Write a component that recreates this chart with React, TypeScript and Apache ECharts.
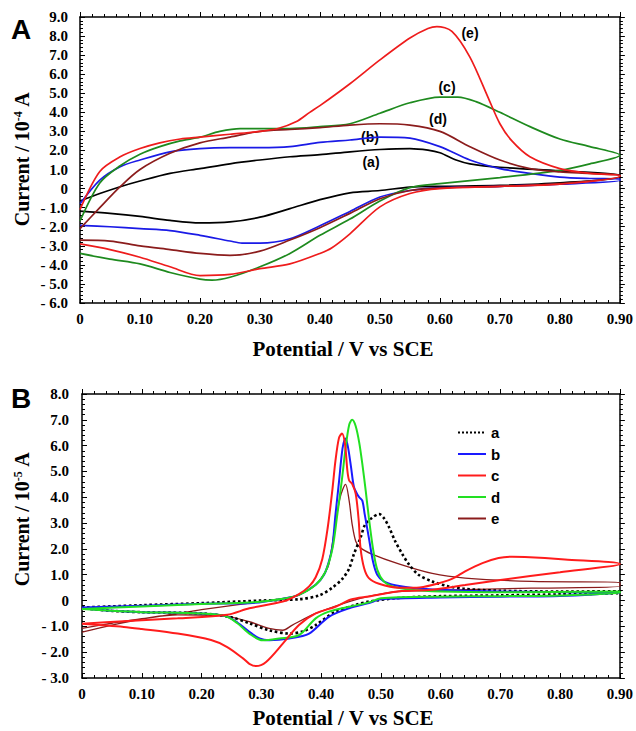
import React, { useEffect, useRef } from "react";
import * as echarts from "echarts";

// ---------- Panel A (current / 10^-4 A) : [potential V, current] ----------
const A_a_fwd = [[0,-0.65],[0.033,-0.26],[0.067,0.1],[0.1,0.4],[0.15,0.8],[0.2,1.05],[0.25,1.3],[0.3,1.5],[0.35,1.67],[0.4,1.78],[0.45,1.93],[0.5,2.05],[0.55,2.1],[0.58,2.02],[0.6,1.88],[0.627,1.5],[0.65,1.3],[0.7,1.12],[0.8,0.93],[0.9,0.7]];
const A_a_rev = [[0.9,0.6],[0.8,0.3],[0.7,0.17],[0.6,0.12],[0.55,0.08],[0.5,-0.1],[0.45,-0.22],[0.4,-0.58],[0.35,-1.05],[0.3,-1.5],[0.25,-1.75],[0.2,-1.8],[0.15,-1.67],[0.1,-1.46],[0.05,-1.3],[0,-1.18]];
const A_b_fwd = [[0,-0.8],[0.033,0.45],[0.067,1.15],[0.1,1.5],[0.15,1.93],[0.2,2.1],[0.25,2.15],[0.3,2.15],[0.35,2.2],[0.4,2.42],[0.45,2.55],[0.5,2.7],[0.55,2.65],[0.6,2.2],[0.65,1.5],[0.7,1.05],[0.75,0.8],[0.8,0.6],[0.85,0.53],[0.9,0.5]];
const A_b_rev = [[0.9,0.42],[0.8,0.23],[0.7,0.12],[0.6,0.05],[0.55,-0.1],[0.5,-0.44],[0.45,-1.2],[0.4,-1.95],[0.35,-2.63],[0.3,-2.86],[0.27,-2.86],[0.25,-2.75],[0.2,-2.45],[0.15,-2.2],[0.1,-2.1],[0.05,-2.0],[0,-1.93]];
const A_c_fwd = [[0,-1.7],[0.033,0.3],[0.067,1.2],[0.1,1.8],[0.133,2.2],[0.167,2.5],[0.2,2.7],[0.233,3.0],[0.267,3.15],[0.3,3.15],[0.35,3.15],[0.4,3.25],[0.45,3.4],[0.5,3.95],[0.55,4.5],[0.6,4.8],[0.63,4.8],[0.66,4.56],[0.7,4.0],[0.75,3.25],[0.8,2.6],[0.85,2.2],[0.9,1.75]];
const A_c_rev = [[0.9,1.75],[0.85,1.3],[0.8,0.96],[0.7,0.58],[0.6,0.26],[0.55,0.05],[0.5,-0.65],[0.45,-1.6],[0.4,-2.45],[0.35,-3.4],[0.3,-4.1],[0.25,-4.65],[0.22,-4.8],[0.2,-4.75],[0.15,-4.4],[0.1,-3.95],[0.05,-3.7],[0,-3.4]];
const A_d_fwd = [[0,-2.1],[0.033,-1.0],[0.067,0.1],[0.1,1.0],[0.15,1.85],[0.2,2.4],[0.25,2.7],[0.3,3.0],[0.35,3.1],[0.4,3.2],[0.45,3.33],[0.5,3.4],[0.55,3.33],[0.6,3.0],[0.65,2.2],[0.7,1.5],[0.75,1.05],[0.8,0.88],[0.85,0.8],[0.9,0.7]];
const A_d_rev = [[0.9,0.65],[0.8,0.26],[0.7,0.12],[0.6,0.03],[0.55,-0.1],[0.5,-0.53],[0.45,-1.3],[0.4,-2.05],[0.35,-2.7],[0.3,-3.28],[0.25,-3.5],[0.2,-3.4],[0.15,-3.2],[0.1,-3.0],[0.05,-2.75],[0,-2.7]];
const A_e_fwd = [[0,-1.1],[0.033,0.9],[0.067,1.67],[0.1,2.1],[0.133,2.4],[0.167,2.6],[0.2,2.7],[0.25,2.85],[0.3,3.0],[0.33,3.15],[0.36,3.5],[0.383,4.0],[0.4,4.35],[0.45,5.5],[0.5,6.75],[0.55,7.9],[0.58,8.4],[0.595,8.5],[0.62,8.25],[0.65,6.9],[0.68,4.8],[0.7,3.4],[0.72,2.5],[0.75,1.67],[0.8,1.05],[0.85,0.8],[0.9,0.7]];
const A_e_rev = [[0.9,0.65],[0.8,0.23],[0.7,0.12],[0.6,0.0],[0.55,-0.26],[0.5,-0.96],[0.45,-2.37],[0.42,-3.1],[0.4,-3.4],[0.35,-3.95],[0.3,-4.2],[0.25,-4.5],[0.2,-4.56],[0.15,-4.1],[0.1,-3.6],[0.05,-3.2],[0,-2.9]];

// ---------- Panel B (current / 10^-5 A) ----------
const B_a_fwd = [[0,-0.27],[0.1,-0.18],[0.2,-0.1],[0.3,0.0],[0.363,0.05],[0.397,0.2],[0.419,0.5],[0.436,0.85],[0.447,1.24],[0.455,1.8],[0.466,2.43],[0.474,2.96],[0.485,3.2],[0.497,3.35],[0.505,3.2],[0.514,2.83],[0.524,2.3],[0.536,1.8],[0.547,1.4],[0.563,1.0],[0.586,0.74],[0.613,0.55],[0.641,0.45],[0.7,0.38],[0.8,0.35],[0.9,0.36]];
const B_a_rev = [[0.9,0.3],[0.8,0.24],[0.7,0.2],[0.6,0.17],[0.53,0.1],[0.48,-0.04],[0.458,-0.17],[0.424,-0.43],[0.391,-0.95],[0.369,-1.2],[0.347,-1.28],[0.313,-1.15],[0.28,-0.88],[0.25,-0.65],[0.2,-0.5],[0.1,-0.45],[0.05,-0.4],[0,-0.3]];
const B_b_fwd = [[0,-0.27],[0.1,-0.2],[0.2,-0.12],[0.28,-0.1],[0.336,0.07],[0.363,0.22],[0.391,0.61],[0.405,1.0],[0.413,1.5],[0.419,2.1],[0.424,3.3],[0.43,4.6],[0.436,5.9],[0.441,6.28],[0.445,5.95],[0.45,5.2],[0.455,4.4],[0.461,4.1],[0.464,4.0],[0.469,3.87],[0.473,3.35],[0.48,2.43],[0.487,1.5],[0.494,1.0],[0.505,0.74],[0.524,0.59],[0.557,0.48],[0.6,0.42],[0.7,0.35],[0.9,0.3]];
const B_b_rev = [[0.9,0.28],[0.8,0.18],[0.7,0.15],[0.6,0.12],[0.5,0.05],[0.48,-0.1],[0.447,-0.3],[0.413,-0.63],[0.38,-1.28],[0.347,-1.47],[0.313,-1.54],[0.297,-1.47],[0.28,-1.21],[0.26,-0.85],[0.24,-0.6],[0.2,-0.5],[0.1,-0.45],[0.05,-0.4],[0,-0.3]];
const B_c_fwd = [[0,-0.9],[0.07,-0.8],[0.16,-0.69],[0.243,-0.55],[0.28,-0.3],[0.336,-0.04],[0.363,0.25],[0.38,0.55],[0.391,0.9],[0.402,1.6],[0.411,2.8],[0.419,4.3],[0.424,5.4],[0.43,6.3],[0.435,6.47],[0.44,6.08],[0.444,5.04],[0.447,4.65],[0.452,4.52],[0.458,4.13],[0.463,3.1],[0.466,2.04],[0.472,1.26],[0.48,0.87],[0.497,0.65],[0.53,0.5],[0.56,0.5],[0.586,0.6],[0.62,0.85],[0.641,1.13],[0.67,1.45],[0.697,1.65],[0.72,1.7],[0.741,1.69],[0.808,1.59],[0.9,1.42]];
const B_c_rev = [[0.9,1.42],[0.8,1.1],[0.7,0.8],[0.641,0.6],[0.586,0.42],[0.53,0.36],[0.48,0.16],[0.45,0.04],[0.424,-0.24],[0.391,-0.5],[0.363,-0.95],[0.336,-1.67],[0.308,-2.38],[0.291,-2.54],[0.28,-2.45],[0.27,-2.25],[0.243,-1.8],[0.216,-1.53],[0.16,-1.28],[0.1,-1.1],[0.07,-1.02],[0,-0.9]];
const B_d_fwd = [[0,-0.33],[0.1,-0.23],[0.2,-0.13],[0.28,-0.08],[0.336,0.07],[0.363,0.22],[0.391,0.61],[0.407,1.1],[0.419,2.0],[0.427,3.3],[0.435,4.7],[0.441,5.9],[0.447,6.8],[0.452,7.0],[0.458,6.75],[0.464,6.1],[0.469,5.3],[0.475,4.2],[0.48,3.2],[0.487,2.0],[0.494,1.2],[0.505,0.74],[0.52,0.55],[0.55,0.42],[0.6,0.35],[0.7,0.32],[0.9,0.35]];
const B_d_rev = [[0.9,0.3],[0.8,0.2],[0.7,0.17],[0.6,0.15],[0.5,0.09],[0.48,-0.07],[0.447,-0.24],[0.413,-0.43],[0.391,-0.69],[0.363,-1.34],[0.33,-1.47],[0.302,-1.54],[0.28,-1.28],[0.26,-0.88],[0.24,-0.6],[0.2,-0.5],[0.1,-0.45],[0.05,-0.4],[0,-0.33]];
const B_e_fwd = [[0,-1.22],[0.05,-0.95],[0.1,-0.72],[0.16,-0.5],[0.2,-0.35],[0.28,-0.1],[0.336,0.07],[0.363,0.22],[0.391,0.61],[0.407,1.1],[0.413,1.4],[0.424,2.96],[0.432,4.0],[0.441,4.5],[0.447,3.87],[0.452,2.96],[0.458,2.3],[0.466,2.04],[0.485,1.8],[0.53,1.42],[0.586,1.05],[0.641,0.87],[0.752,0.74],[0.9,0.7]];
const B_e_rev = [[0.9,0.55],[0.752,0.48],[0.641,0.42],[0.53,0.35],[0.48,0.16],[0.447,-0.04],[0.391,-0.5],[0.352,-0.95],[0.336,-1.15],[0.313,-1.08],[0.28,-0.82],[0.24,-0.6],[0.16,-0.55],[0.1,-0.7],[0.05,-0.88],[0,-1.08]];

const A_labels = ["(a)", "(b)", "(c)", "(d)", "(e)"];
const B_names = ["a", "b", "c", "d", "e"];

const SERIF = '"Liberation Serif", "Times New Roman", serif';
const SANS = '"Liberation Sans", Arial, sans-serif';

function xFmt(v: number) {
  return Math.abs(v) < 1e-9 ? "0" : v.toFixed(2);
}
function yFmt(v: number) {
  if (Math.abs(v) < 1e-9) return "0";
  return v < 0 ? "- " + Math.abs(v).toFixed(1) : v.toFixed(1);
}

function xAxisCfg(grid: number, pos: "bottom" | "top") {
  const bottom = pos === "bottom";
  return {
    type: "value",
    gridIndex: grid,
    position: pos,
    min: 0,
    max: 0.9,
    interval: 0.1,
    axisLine: { show: true, onZero: false, lineStyle: { color: "#000", width: 1.5 } },
    axisTick: { show: true, inside: bottom, length: 5, lineStyle: { color: "#000", width: 1 } },
    minorTick: { show: true, splitNumber: 5, length: 3, lineStyle: { color: "#000", width: 1 } },
    axisLabel: {
      show: bottom,
      formatter: xFmt,
      color: "#000",
      fontFamily: SERIF,
      fontWeight: "bold",
      fontSize: 15,
      margin: 8,
    },
    splitLine: { show: false },
  };
}

function yAxisCfg(grid: number, pos: "left" | "right", min: number, max: number, margin: number) {
  const left = pos === "left";
  return {
    type: "value",
    gridIndex: grid,
    position: pos,
    min,
    max,
    interval: 1,
    axisLine: { show: true, onZero: false, lineStyle: { color: "#000", width: 1.5 } },
    axisTick: { show: true, inside: left, length: 5, lineStyle: { color: "#000", width: 1 } },
    minorTick: { show: true, splitNumber: 5, length: 3, lineStyle: { color: "#000", width: 1 } },
    axisLabel: {
      show: left,
      formatter: yFmt,
      color: "#000",
      fontFamily: SERIF,
      fontWeight: "bold",
      fontSize: 15,
      margin,
    },
    splitLine: { show: false },
  };
}

function lineSeries(name: string, data: number[][], color: string, xi: number, yi: number, width: number, type = "solid") {
  return {
    type: "line",
    name,
    xAxisIndex: xi,
    yAxisIndex: yi,
    data,
    smooth: 0.3,
    symbol: "none",
    showSymbol: false,
    lineStyle: { color, width, type },
    itemStyle: { color },
    emphasis: { disabled: true },
    silent: true,
  };
}

export default function App() {
  const ref = useRef<HTMLDivElement>(null);
  useEffect(() => {
    if (!ref.current) return;
    const chart = echarts.init(ref.current, undefined, { renderer: "svg" });
    const aColors = ["#000000", "#1a1ae6", "#1e8a1e", "#8b1c1c", "#ee1c1c"];
    const bColors = ["#000000", "#1a1aff", "#ff1c1c", "#22e022", "#8b1c1c"];
    const aData = [
      [...A_a_fwd, ...A_a_rev],
      [...A_b_fwd, ...A_b_rev],
      [...A_c_fwd, ...A_c_rev],
      [...A_d_fwd, ...A_d_rev],
      [...A_e_fwd, ...A_e_rev],
    ];
    const bData = [
      [...B_a_fwd, ...B_a_rev],
      [...B_b_fwd, ...B_b_rev],
      [...B_c_fwd, ...B_c_rev],
      [...B_d_fwd, ...B_d_rev],
      [...B_e_fwd, ...B_e_rev],
    ];
    const series: any[] = [];
    aData.forEach((d, i) => series.push(lineSeries(A_labels[i], d, aColors[i], 0, 0, 1.7)));
    const bOrder = [4, 0, 1, 3, 2];
    bOrder.forEach((i) => {
      const w = i === 4 ? 1.3 : 2;
      series.push(lineSeries(B_names[i], bData[i], bColors[i], 2, 2, i === 0 ? 2.6 : w, i === 0 ? "dotted" : "solid"));
    });

    const yTitle = (txt: string, sup: string, x: number, y: number) => ({
      type: "text",
      x,
      y,
      rotation: Math.PI / 2,
      style: {
        text: `{t|${txt}}{s|${sup}}{t| A}`,
        rich: {
          t: { fontFamily: SERIF, fontWeight: "bold", fontSize: 20, fill: "#000", lineHeight: 24 },
          s: { fontFamily: SERIF, fontWeight: "bold", fontSize: 12, fill: "#000", lineHeight: 24, padding: [0, 0, 9, 0] },
        },
        align: "center",
        verticalAlign: "middle",
        textAlign: "center",
        textVerticalAlign: "middle",
      },
    });
    const xTitle = (y: number) => ({
      type: "text",
      x: 343,
      y,
      style: {
        text: "Potential / V vs SCE",
        fontFamily: SERIF,
        fontWeight: "bold",
        fontSize: 21,
        fill: "#000",
        align: "center",
        verticalAlign: "middle",
        textAlign: "center",
        textVerticalAlign: "middle",
      },
    });
    const annot = (t: string, x: number, y: number) => ({
      type: "text",
      x,
      y,
      style: {
        text: t,
        fontFamily: SANS,
        fontWeight: "bold",
        fontSize: 14,
        fill: "#000",
        align: "center",
        verticalAlign: "middle",
        textAlign: "center",
        textVerticalAlign: "middle",
      },
    });

    chart.setOption({
      animation: false,
      backgroundColor: "#fff",
      grid: [
        { left: 80, top: 17, width: 541, height: 286 },
        { left: 82, top: 394, width: 539, height: 284 },
      ],
      xAxis: [xAxisCfg(0, "bottom"), xAxisCfg(0, "top"), xAxisCfg(1, "bottom"), xAxisCfg(1, "top")],
      yAxis: [
        yAxisCfg(0, "left", -6, 9, 12),
        yAxisCfg(0, "right", -6, 9, 12),
        yAxisCfg(1, "left", -3, 8, 13),
        yAxisCfg(1, "right", -3, 8, 13),
      ],
      legend: {
        data: B_names,
        orient: "vertical",
        left: 457,
        top: 425,
        itemWidth: 28,
        itemHeight: 14,
        itemGap: 6.5,
        padding: 0,
        selectedMode: false,
        itemStyle: { opacity: 0, borderWidth: 0 },
        textStyle: { fontFamily: SANS, fontWeight: "bold", fontSize: 15, color: "#000" },
      },
      graphic: [
        { type: "text", left: 11, top: 15, style: { text: "A", fontFamily: SANS, fontWeight: "bold", fontSize: 28, fill: "#000" } },
        { type: "text", left: 11, top: 384, style: { text: "B", fontFamily: SANS, fontWeight: "bold", fontSize: 28, fill: "#000" } },
        yTitle("Current / 10", "-4", 22, 159),
        yTitle("Current / 10", "-5", 22, 519),
        xTitle(349),
        xTitle(718),
        annot("(a)", 371, 162),
        annot("(b)", 370, 137),
        annot("(c)", 447, 87),
        annot("(d)", 438, 119),
        annot("(e)", 470, 33),
      ],
      series,
    });
    return () => chart.dispose();
  }, []);
  return <div ref={ref} style={{ width: 636, height: 731, position: "absolute", left: 0, top: 0 }} />;
}
